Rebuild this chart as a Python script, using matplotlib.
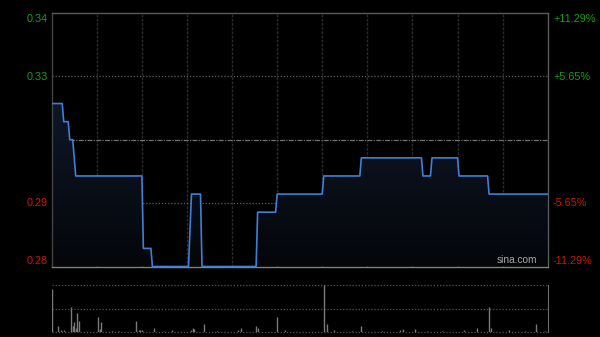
import numpy as np
import matplotlib
matplotlib.use("Agg")
from matplotlib import pyplot as plt

# price line vertices (minutes since open, price)
times = [0, 7, 8, 11, 12, 14, 16, 60, 61, 66, 67, 91, 93, 99, 100, 136, 137,
         149, 150, 180, 181, 205, 206, 246, 247, 252, 253, 270, 271, 290, 291, 330]
prices = [0.32, 0.32, 0.315, 0.315, 0.31, 0.31, 0.30, 0.30, 0.28, 0.28, 0.275,
          0.275, 0.295, 0.295, 0.275, 0.275, 0.29, 0.29, 0.295, 0.295, 0.30,
          0.30, 0.305, 0.305, 0.30, 0.30, 0.305, 0.305, 0.30, 0.30, 0.295, 0.295]
prev_close = 0.31

# volume (thousand shares) per minute
vol_min = [0, 4, 6, 8, 13, 14, 15, 16, 17, 18, 31, 32, 33, 40, 45, 56, 58, 59,
           60, 68, 75, 80, 93, 94, 95, 101, 110, 124, 126, 136, 137, 150, 155,
           181, 183, 188, 200, 206, 220, 232, 234, 242, 250, 260, 274, 283, 291,
           292, 304, 315, 322, 328]
volumes = [1820, 240, 60, 60, 1060, 240, 420, 180, 800, 460, 620, 120, 420, 40,
           40, 480, 60, 80, 60, 140, 40, 80, 80, 180, 100, 340, 40, 80, 180, 260,
           180, 640, 60, 2000, 340, 80, 40, 260, 40, 60, 120, 120, 40, 40, 60,
           140, 1060, 180, 60, 40, 340, 40]

left_labels = ["0.34", "0.33", "0.29", "0.28"]
right_labels = ["+11.29%", "+5.65%", "-5.65%", "-11.29%"]
label_y = [19, 77, 203, 261]

W, H = 600, 337
fig = plt.figure(figsize=(W / 100, H / 100), dpi=100, facecolor="black")

ax = fig.add_axes([51.7 / W, 1 - 266.5 / H, 496 / W, 253.5 / H], facecolor="black")
vax = fig.add_axes([51.7 / W, 1 - 331.7 / H, 496 / W, 46.4 / H], facecolor="black")

top = prev_close * 1.1129
bottom = prev_close * (1 - 0.1129)
ax.set_xlim(0, 330)
ax.set_ylim(bottom, top)

# grid
for k in range(1, 11):
    ax.axvline(30 * k, color="#2b2b2b", lw=1, ls=(0, (2, 1)), zorder=1)
span = top - bottom
for q in [0.25, 0.75]:
    ax.axhline(bottom + span * q, color="#5e5e5e", lw=0.9, ls=(0, (1, 1.5)), zorder=1)
ax.axhline(prev_close, color="#707070", lw=0.9, ls=(0, (4, 1, 1, 1)), zorder=1)

# gradient fill under the line
poly = ax.fill_between(times, prices, bottom, color="none", lw=0)
grad = np.linspace(1, 0, 256).reshape(-1, 1)
c_top = np.array([20, 32, 56]) / 255
c_bot = np.array([4, 6, 10]) / 255
img = grad[..., None] * c_top + (1 - grad[..., None]) * c_bot
im = ax.imshow(img, extent=[0, 330, bottom, top], aspect="auto", zorder=2,
               origin="upper")
im.set_clip_path(poly.get_paths()[0], transform=ax.transData)

ax.plot(times, prices, color="#3f7fd6", lw=1.2, zorder=3)

for s in ax.spines.values():
    s.set_linewidth(1)
ax.spines["top"].set_color("#5a5a5a")
ax.spines["left"].set_color("#444444")
ax.spines["right"].set_color("#5a5a5a")
ax.spines["bottom"].set_color("#808080")
ax.set_xticks([])
ax.set_yticks([])

ax.text(0.978, 0.005, "sina.com", transform=ax.transAxes, ha="right", va="bottom",
        color="#a8a8a8", fontsize=7.3, family="Liberation Sans", zorder=4)

# volume panel
vmax = max(volumes)
vax.set_xlim(0, 330)
vax.set_ylim(0, vmax)
for q in [0, 0.5, 1]:
    vax.axhline(vmax * q, color="#555555", lw=0.9, ls=(0, (1, 1.5)), zorder=1,
                clip_on=False)
vax.vlines(vol_min, 0, volumes, color="#7a7a7a", lw=1, zorder=2)
for name in ["top", "bottom", "left"]:
    vax.spines[name].set_visible(False)
vax.spines["right"].set_color("#6a6a6a")
vax.set_xticks([])
vax.set_yticks([])

# labels
for txt, yy in zip(left_labels, label_y):
    col = "#13a013" if float(txt) > prev_close else "#cc1a00"
    fig.text(48 / W, 1 - yy / H, txt, ha="right", va="center", color=col,
             fontsize=7.8, family="Liberation Sans")
for txt, yy in zip(right_labels, label_y):
    col = "#13a013" if txt.startswith("+") else "#cc1a00"
    fig.text(553 / W, 1 - yy / H, txt, ha="left", va="center", color=col,
             fontsize=7.8, family="Liberation Sans")

fig.savefig("out.png", dpi=100, facecolor="black")
